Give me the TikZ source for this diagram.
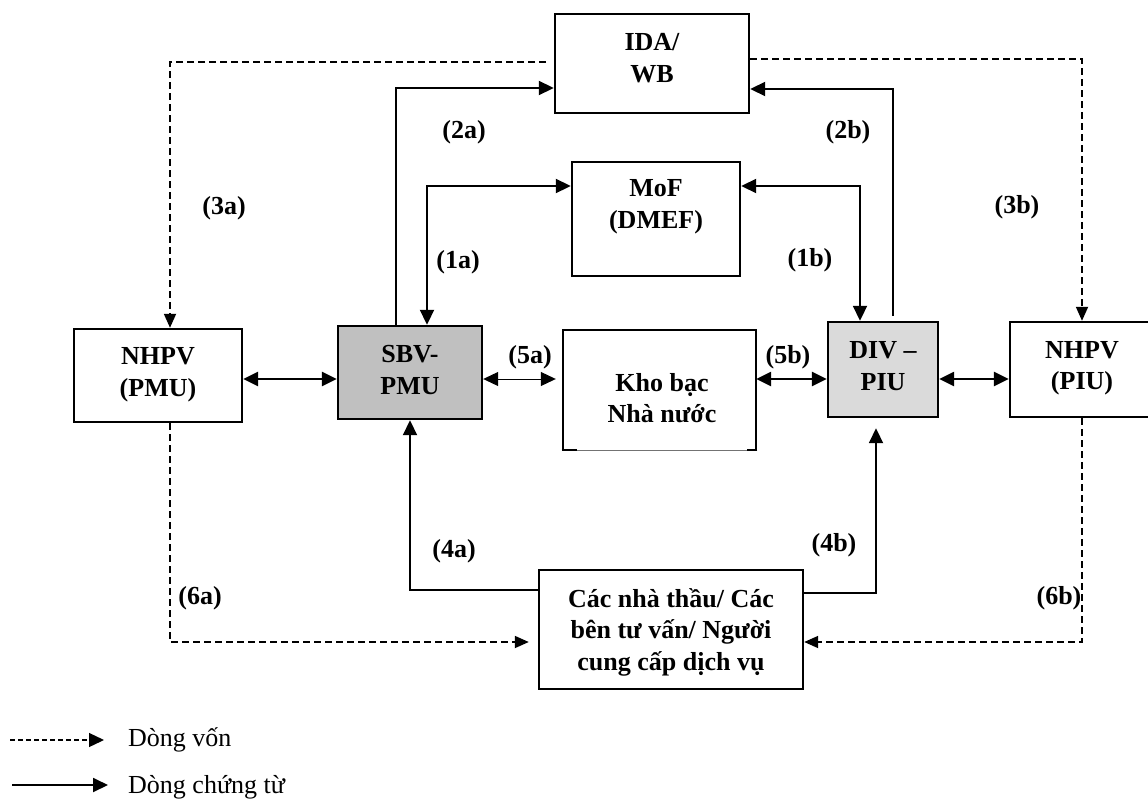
\documentclass[tikz,border=0pt]{standalone}
\usepackage{fontspec}
\setmainfont{Liberation Serif}
\usetikzlibrary{arrows.meta}
\definecolor{sbvgray}{HTML}{C0C0C0}
\definecolor{divgray}{HTML}{DADADA}
\begin{document}
\begin{tikzpicture}[x=1pt,y=-1pt,
  box/.style={draw, line width=2.4pt, rectangle, inner sep=0pt},
  txt/.style={font=\fontsize{26}{31.5}\selectfont\bfseries, align=center, inner sep=0pt},
  lab/.style={font=\fontsize{26}{31}\selectfont\bfseries, inner sep=0pt},
  leg/.style={font=\fontsize{26}{31}\selectfont, anchor=west, inner sep=0pt},
  tip/.tip={Triangle[length=15pt,width=14pt]},
  ftip/.tip={Triangle[length=14pt,width=12pt]},
  doc/.style={line width=1.9pt, -tip},
  docboth/.style={line width=1.9pt, tip-tip},
  link/.style={line width=2.5pt, tip-tip},
  thinlink/.style={line width=1pt, tip-tip},
  fund/.style={line width=1.8pt, dash pattern=on 7pt off 4pt, -ftip}
]
\useasboundingbox (0,0) rectangle (1148,811);

% helper levels
\coordinate (y59) at (0,59);
\coordinate (y88) at (0,88);
\coordinate (y89) at (0,89);
\coordinate (y186) at (0,186);
\coordinate (y379) at (0,379);
\coordinate (y590) at (0,590);
\coordinate (y593) at (0,593);
\coordinate (y642) at (0,642);
\coordinate (x170) at (170,0);
\coordinate (x396) at (396,0);
\coordinate (x427) at (427,0);
\coordinate (x860) at (860,0);
\coordinate (x876) at (876,0);
\coordinate (x893) at (893,0);

% boxes
\node[box, minimum width=194pt, minimum height=99pt] (ida) at (652,63.5) {};
\node[box, minimum width=168pt, minimum height=114pt] (mof) at (656,219) {};
\node[box, minimum width=168pt, minimum height=93pt] (nhpvL) at (158,375.5) {};
\node[box, fill=sbvgray, minimum width=144pt, minimum height=93pt] (sbv) at (410,372.5) {};
\node[inner sep=0pt, minimum width=193pt, minimum height=120pt] (kho) at (659.5,390) {};
\draw[line width=2.4pt] (kho.south west) -- (kho.north west) -- (kho.north east) -- (kho.south east);
\draw[line width=1pt, black!55] (kho.south west) -- (kho.south east);
\draw[line width=2.4pt] ([xshift=-1.2pt]kho.south west) -- ++(15,0);
\draw[line width=2.4pt] ([xshift=1.2pt]kho.south east) -- ++(-10,0);
\node[box, fill=divgray, minimum width=110pt, minimum height=95pt] (div) at (883,369.5) {};
\node[box, minimum width=144pt, minimum height=95pt] (nhpvR) at (1082,369.5) {};
\node[box, minimum width=264pt, minimum height=119pt] (con) at (671,629.5) {};

% texts
\node[txt] (idaT) at (652,58) {IDA/\\WB};
\node[txt] (mofT) at (656,207) {MoF\\(DMEF)};
\node[txt] (nhpvLT) at (158,375) {NHPV\\(PMU)};
\node[txt] (sbvT) at (410,370) {SBV-\\PMU};
\node[txt] (khoT) at (662,398) {Kho bạc\\Nhà nước};
\node[txt] (divT) at (883,366) {DIV –\\PIU};
\node[txt] (nhpvRT) at (1082,368) {NHPV\\(PIU)};
\node[txt] (conT) at (671,632) {Các nhà thầu/ Các\\bên tư vấn/ Người\\cung cấp dịch vụ};

% fund flows (dashed)
\coordinate (a3s) at (546,62);
\draw[fund] (a3s) -| (x170 |- nhpvL.north);
\draw[fund] (ida.east |- y59) -| (nhpvR.north);
\draw[fund, shorten >=9pt] (x170 |- nhpvL.south) |- (con.west |- y642);
\draw[fund] (nhpvR.south) |- (con.east |- y642);

% document flows (solid)
\draw[doc] (x396 |- sbv.north) |- (ida.west |- y88);
\draw[doc, shorten <=5pt] (x893 |- div.north) |- (ida.east |- y89);
\draw[docboth] (x427 |- sbv.north) |- (mof.west |- y186);
\draw[docboth] (x860 |- div.north) |- (mof.east |- y186);
\draw[link] (nhpvL.east |- y379) -- (sbv.west |- y379);
\draw[thinlink, shorten >=7pt] (sbv.east |- y379) -- (kho.west |- y379);
\draw[link] (kho.east |- y379) -- (div.west |- y379);
\draw[link] (div.east |- y379) -- (nhpvR.west |- y379);
\draw[doc] (con.west |- y590) -| (sbv.south);
\draw[doc, shorten >=10pt] (con.east |- y593) -| (x876 |- div.south);

% labels
\node[lab] (l2a) at (464,132) {(2a)};
\node[lab] (l2b) at (848,132) {(2b)};
\node[lab] (l3a) at (224,208) {(3a)};
\node[lab] (l3b) at (1017,207) {(3b)};
\node[lab] (l1a) at (458,262) {(1a)};
\node[lab] (l1b) at (810,260) {(1b)};
\node[lab] (l5a) at (530,357) {(5a)};
\node[lab] (l5b) at (788,357) {(5b)};
\node[lab] (l4a) at (454,551) {(4a)};
\node[lab] (l4b) at (834,545) {(4b)};
\node[lab] (l6a) at (200,598) {(6a)};
\node[lab] (l6b) at (1059,598) {(6b)};

% legend
\coordinate (g1a) at (10,740);
\coordinate (g1b) at (104,740);
\draw[fund, line width=1.3pt, dash pattern=on 5pt off 3pt, -tip] (g1a) -- (g1b);
\node[leg] (g1t) at (128,740) {Dòng vốn};
\coordinate (g2a) at (12,785);
\coordinate (g2b) at (108,785);
\draw[doc] (g2a) -- (g2b);
\node[leg] (g2t) at (128,787) {Dòng chứng từ};
\end{tikzpicture}
\end{document}
